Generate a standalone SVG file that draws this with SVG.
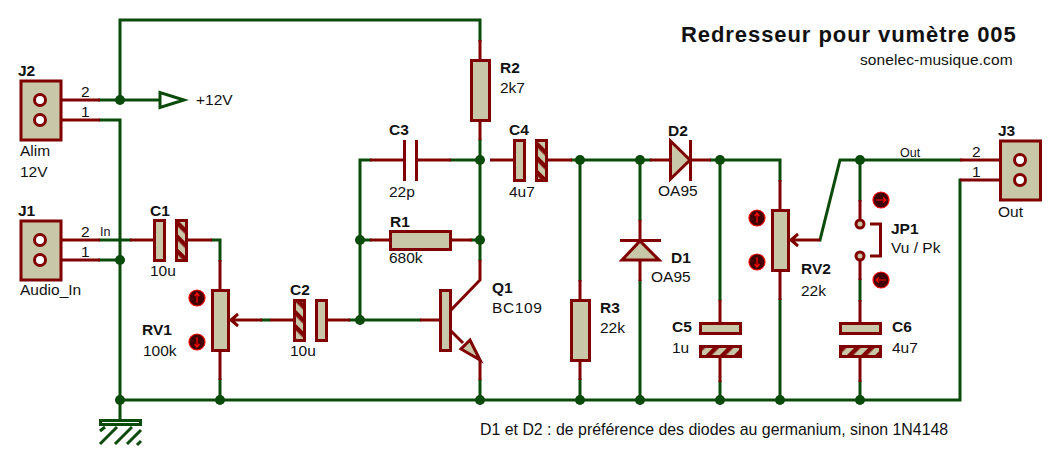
<svg xmlns="http://www.w3.org/2000/svg" width="1060" height="460" viewBox="0 0 1060 460">
<style>
text{font-family:"Liberation Sans",Arial,sans-serif;font-size:15.5px;fill:#111}
.b{font-weight:bold}
.s{font-size:12.5px}
.n{font-size:15.9px}
.g{fill:none;stroke:#0a4a0a;stroke-width:3;stroke-linecap:square;stroke-linejoin:miter}
.r{fill:none;stroke:#800000;stroke-width:3;stroke-linecap:butt;stroke-linejoin:miter}
.body{fill:#c8c8a8;stroke:#800000;stroke-width:3}
.hl{fill:url(#hatchA);stroke:#800000;stroke-width:3}
.hh{fill:url(#hatchB);stroke:#800000;stroke-width:3}
.pin{fill:#fff;stroke:#800000;stroke-width:3}
.jp{fill:#c8c8a8;stroke:#800000;stroke-width:3}
.dot{fill:#0a4a0a}
.pr{fill:#400000;stroke:#ff0000;stroke-width:1.2}
.pa{fill:none;stroke:#ff0000;stroke-width:1.2}
.gh{fill:none;stroke:#0a4a0a;stroke-width:3}
</style>
<defs>
<pattern id="hatchA" width="10" height="10" patternUnits="userSpaceOnUse" patternTransform="rotate(45)"><rect width="10" height="10" fill="#c8c8a8"/><rect width="10" height="4.5" fill="#800000"/></pattern>
<pattern id="hatchB" width="10" height="10" patternUnits="userSpaceOnUse" patternTransform="rotate(-45)"><rect width="10" height="10" fill="#c8c8a8"/><rect width="10" height="4.5" fill="#800000"/></pattern>
<g id="up"><circle class="pr" r="8"/><path class="pa" d="M0 5V-5M-2.500 -2L0 -5L2.500 -2"/></g>
<g id="down"><circle class="pr" r="8"/><path class="pa" d="M0 -5V5M-2.500 2L0 5L2.500 2"/></g>
<g id="right"><circle class="pr" r="8"/><path class="pa" d="M-5 0H5M2 -2.500L5 0L2 2.500"/></g>
<g id="left"><circle class="pr" r="8"/><path class="pa" d="M5 0H-5M-2 -2.500L-5 0L-2 2.500"/></g>
</defs>
<rect width="1060" height="460" fill="#fff"/>
<g id="connectors">
<path class="g" d="M120 100V20H480V40M100 100H160M100 120H120V400M100 240H130M100 260H120M212 240H220V260M120 400H960V180M120 400V420"/>
<path class="g" d="M262 320H269M350 320H420M360 320V160H370M360 240H370M451 160H480M480 140V260M472 240H480M220 380V400M480 380V400"/>
<path class="g" d="M572 160H650M580 160V280M580 380V400M640 160V220M640 281V400M711 160H780V180M720 160V300M720 382V400M780 300V400"/>
<path class="g" d="M820 240L840 160H960M860 160V200M860 280V300M860 382V400"/>
<path class="r" d="M40 100H100M40 120H100M40 240H100M40 260H100M130 240H154M187 240H212M220 260V290M220 351V380M240 320H262M270 320H294M327 320H350M420 320H440"/>
<path class="r" d="M370 160H404M416 160H451M370 240H390M451 240H472M480 40V60M480 121V140M490 160H514M547 160H572M580 280V300M580 361V380M480 260V280L451 310M451 331L463 343M480 360V380"/>
<path class="r" d="M650 160H670M690 160H711M640 220V240M640 260V281M720 300V323M720 358V382M780 180V210M780 271V300M800 240H820M960 160H1020M960 180H1020M860 200V224M860 256V280M860 300V323M860 358V382"/>
<g id="junctions">
<circle class="dot" cx="120" cy="100" r="5"/><circle class="dot" cx="120" cy="260" r="5"/><circle class="dot" cx="120" cy="400" r="5"/><circle class="dot" cx="220" cy="400" r="5"/><circle class="dot" cx="360" cy="320" r="5"/><circle class="dot" cx="360" cy="240" r="5"/><circle class="dot" cx="480" cy="160" r="5"/><circle class="dot" cx="480" cy="240" r="5"/><circle class="dot" cx="480" cy="400" r="5"/><circle class="dot" cx="580" cy="160" r="5"/><circle class="dot" cx="580" cy="400" r="5"/><circle class="dot" cx="640" cy="160" r="5"/><circle class="dot" cx="640" cy="400" r="5"/><circle class="dot" cx="720" cy="160" r="5"/><circle class="dot" cx="720" cy="400" r="5"/><circle class="dot" cx="780" cy="400" r="5"/><circle class="dot" cx="860" cy="160" r="5"/><circle class="dot" cx="860" cy="400" r="5"/>
</g>
</g>
<g id="J2"><rect class="body" x="21" y="81" width="40" height="59"/><circle class="pin" cx="40" cy="100" r="5.500"/><circle class="pin" cx="40" cy="120" r="5.500"/><text class="b" x="18" y="76">J2</text><text x="20" y="156">Alim</text><text x="20" y="177">12V</text><text x="81" y="97">2</text><text x="81" y="117">1</text></g>
<g id="J1"><rect class="body" x="21" y="221" width="40" height="59"/><circle class="pin" cx="40" cy="240" r="5.500"/><circle class="pin" cx="40" cy="260" r="5.500"/><text class="b" x="18" y="216">J1</text><text x="20" y="295">Audio_In</text><text x="81" y="237">2</text><text x="81" y="257">1</text><text class="s" x="100" y="236">In</text></g>
<g id="PWR"><path d="M160 92.500V107.500L184 100Z" fill="#fff" stroke="#0a4a0a" stroke-width="3"/><text x="196" y="105">+12V</text></g>
<g id="C1"><rect class="body" x="154.500" y="220.500" width="10" height="40"/><rect class="hl" x="176.500" y="220.500" width="10" height="40"/><text class="b" x="150" y="216">C1</text><text x="150" y="276">10u</text></g>
<g id="RV1"><rect class="body" x="212.500" y="290.500" width="16" height="60"/><path class="r" d="M240 320H231M238 314L231 320L238 326"/><use href="#up" x="197" y="298"/><use href="#down" x="197" y="342"/><text class="b" x="142" y="335">RV1</text><text x="143" y="356">100k</text></g>
<g id="C2"><rect class="hl" x="294.500" y="300.500" width="10" height="40"/><rect class="body" x="316.500" y="300.500" width="10" height="40"/><text class="b" x="290" y="295">C2</text><text x="290" y="356">10u</text></g>
<g id="Q1"><rect class="body" x="440.500" y="290.500" width="10" height="60"/><path class="body" d="M470 340L461 349L480 360Z"/><text class="b" x="492" y="293">Q1</text><text x="492" y="313" style="letter-spacing:.6px">BC109</text></g>
<g id="C3"><path class="r" d="M404.500 140V181M416.500 140V181"/><text class="b" x="389" y="135">C3</text><text x="389" y="197">22p</text></g>
<g id="R1"><rect class="body" x="390.500" y="231.500" width="60" height="18"/><text class="b" x="390" y="227">R1</text><text x="389" y="263">680k</text></g>
<g id="R2"><rect class="body" x="471.500" y="60.500" width="18" height="60"/><text class="b" x="500" y="73">R2</text><text x="500" y="93">2k7</text></g>
<g id="C4"><rect class="body" x="514.500" y="140.500" width="10" height="40"/><rect class="hl" x="536.500" y="140.500" width="10" height="40"/><text class="b" x="509" y="135">C4</text><text x="509" y="197">4u7</text></g>
<g id="R3"><rect class="body" x="571.500" y="300.500" width="18" height="60"/><text class="b" x="600" y="313">R3</text><text x="600" y="333">22k</text></g>
<g id="D2"><path class="body" d="M670.500 141V179L690 160Z"/><path class="r" d="M690.500 140V181"/><text class="b" x="668" y="136">D2</text><text x="658" y="196">OA95</text></g>
<g id="D1"><path class="body" d="M622 260H659L640 241Z"/><path class="r" d="M620 240.500H661"/><text class="b" x="671" y="263">D1</text><text x="651" y="282">OA95</text></g>
<g id="C5"><rect class="body" x="700.500" y="323.500" width="40" height="10"/><rect class="hh" x="700.500" y="346.500" width="40" height="10"/><text class="b" x="672" y="332">C5</text><text x="672" y="353">1u</text></g>
<g id="RV2"><rect class="body" x="772.500" y="210.500" width="16" height="60"/><path class="r" d="M800 240H791M798 234L791 240L798 246"/><use href="#up" x="757" y="218"/><use href="#down" x="757" y="262"/><text class="b" x="801" y="274">RV2</text><text x="801" y="296">22k</text></g>
<g id="JP1"><circle class="jp" cx="860" cy="224" r="4"/><circle class="jp" cx="860" cy="256" r="4"/><path class="r" d="M870 224H880.500V256H870"/><use href="#right" x="881" y="200"/><use href="#left" x="881" y="280"/><text class="b" x="891" y="234">JP1</text><text x="891" y="253">Vu / Pk</text></g>
<g id="C6"><rect class="body" x="840.500" y="323.500" width="40" height="10"/><rect class="hh" x="840.500" y="346.500" width="40" height="10"/><text class="b" x="892" y="332">C6</text><text x="892" y="353">4u7</text></g>
<g id="J3"><rect class="body" x="1000.500" y="141" width="40" height="59"/><circle class="pin" cx="1020" cy="160" r="5.500"/><circle class="pin" cx="1020" cy="180" r="5.500"/><text class="b" x="998" y="136">J3</text><text x="998" y="217">Out</text><text x="972" y="157">2</text><text x="972" y="177">1</text><text class="s" x="900" y="157">Out</text></g>
<g id="GND"><rect x="100.500" y="420.500" width="40" height="4" fill="#fff" stroke="#0a4a0a" stroke-width="3"/><path class="gh" d="M100 431L105 427M100 444L117 427M115 444L132 427M127 444L141 430M137 445L141 441"/></g>
<g id="notes"><text class="b" x="681" y="42" style="font-size:22px;letter-spacing:.93px">Redresseur pour vumètre 005</text><text x="860" y="65" style="letter-spacing:.1px">sonelec-musique.com</text><text class="n" x="480" y="435">D1 et D2 : de préférence des diodes au germanium, sinon 1N4148</text></g>
</svg>
